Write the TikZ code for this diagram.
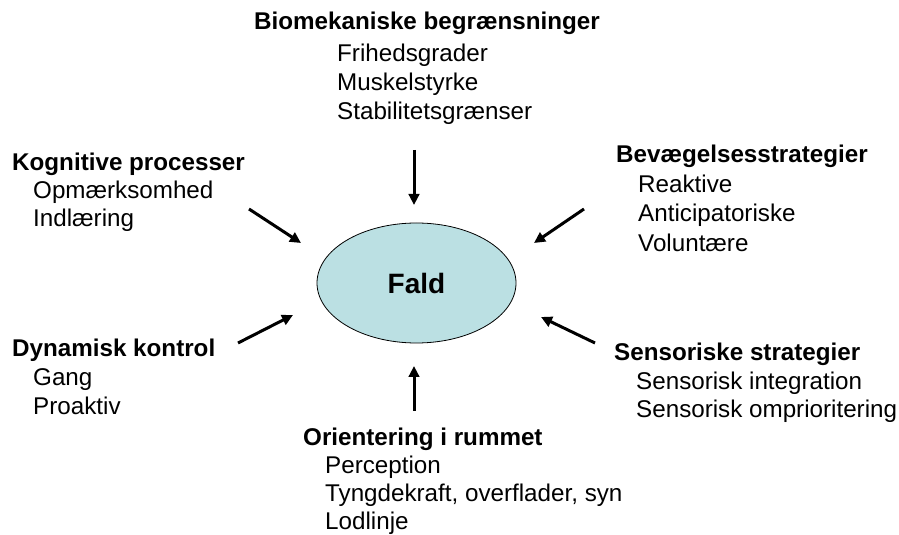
\documentclass[tikz,border=0pt]{standalone}
\usepackage{fontspec}
\setmainfont{Liberation Sans}
\usetikzlibrary{arrows.meta,shapes.geometric}
\definecolor{faldfill}{RGB}{187,224,227}
\begin{document}
\begin{tikzpicture}[x=1pt,y=1pt,
  head/.style={anchor=base west, inner sep=0pt, font=\fontsize{24.2}{28}\selectfont\bfseries},
  item/.style={anchor=base west, inner sep=0pt, font=\fontsize{24.2}{28}\selectfont},
  arr/.style={line width=3pt, -{Triangle[length=11pt,width=10.5pt]}},
  centre/.style={ellipse, draw=black, line width=0.8pt, fill=faldfill,
    minimum width=199pt, minimum height=120pt, inner sep=0pt,
    font=\fontsize{28}{32}\selectfont\bfseries}]
\useasboundingbox (0,0) rectangle (899,535);
% centre
\node[centre] (fald) at (416.5,252) {Fald};
% top group
\node[head] (bio) at (254,505) {Biomekaniske begrænsninger};
\node[item] (bio1) at (337,473) {Frihedsgrader};
\node[item] (bio2) at (337,444) {Muskelstyrke};
\node[item] (bio3) at (337,415) {Stabilitetsgrænser};
% upper left
\node[head] (kog) at (12,364) {Kognitive processer};
\node[item] (kog1) at (33,336) {Opmærksomhed};
\node[item] (kog2) at (33,308) {Indlæring};
% upper right
\node[head] (bev) at (616,372) {Bevægelsesstrategier};
\node[item] (bev1) at (638,342) {Reaktive};
\node[item] (bev2) at (638,313) {Anticipatoriske};
\node[item] (bev3) at (638,283) {Voluntære};
% lower left
\node[head] (dyn) at (12,178) {Dynamisk kontrol};
\node[item] (dyn1) at (33,149) {Gang};
\node[item] (dyn2) at (33,120) {Proaktiv};
% lower right
\node[head] (sen) at (614,174) {Sensoriske strategier};
\node[item] (sen1) at (636,145) {Sensorisk integration};
\node[item] (sen2) at (636,117) {Sensorisk omprioritering};
% bottom
\node[head] (ori) at (303,89) {Orientering i rummet};
\node[item] (ori1) at (325,61) {Perception};
\node[item] (ori2) at (325,33) {Tyngdekraft, overflader, syn};
\node[item] (ori3) at (325,5) {Lodlinje};
% arrow endpoints
\coordinate (tA) at (414,385); \coordinate (tB) at (414,330);
\coordinate (ulA) at (249,326); \coordinate (ulB) at (301,292);
\coordinate (urA) at (584,326); \coordinate (urB) at (534,292);
\coordinate (llA) at (238,192); \coordinate (llB) at (293,220);
\coordinate (lrA) at (595,192); \coordinate (lrB) at (541,218);
\coordinate (bA) at (414,124); \coordinate (bB) at (414,169);
\draw[arr] (tA) -- (tB);
\draw[arr] (ulA) -- (ulB);
\draw[arr] (urA) -- (urB);
\draw[arr] (llA) -- (llB);
\draw[arr] (lrA) -- (lrB);
\draw[arr] (bA) -- (bB);
\end{tikzpicture}
\end{document}
